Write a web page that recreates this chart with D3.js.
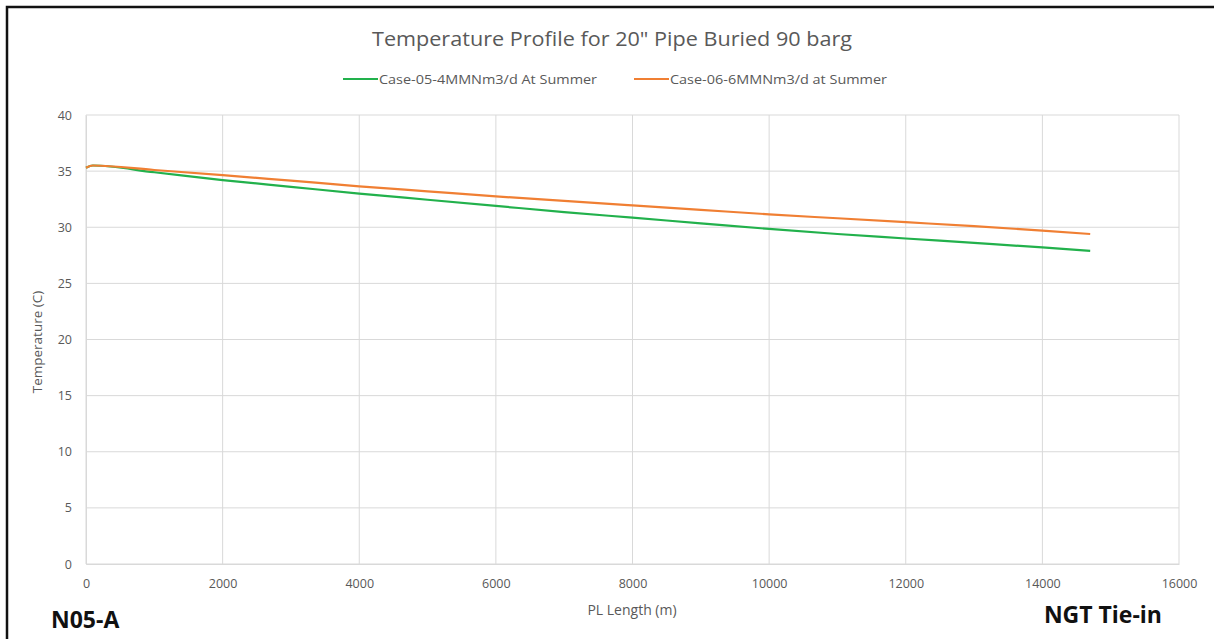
<!DOCTYPE html>
<html><head><meta charset="utf-8">
<script src="https://cdn.jsdelivr.net/npm/d3@7"></script>
<style>body{margin:0;background:#fff;}svg{display:block;font-family:"Open Sans",sans-serif;}</style>
</head><body><svg id="c" width="1214" height="639"></svg>
<script>
const chartTitle = 'Temperature  Profile for 20" Pipe Buried 90 barg';
const xTicks = [0,2000,4000,6000,8000,10000,12000,14000,16000];
const yTicks = [0,5,10,15,20,25,30,35,40];
const lengths = [0,100,1000,2000,3000,4000,5000,6000,7000,8000,9000,10000,11000,12000,13000,14000,14700];
const case05 = [35.3,35.5,34.9,34.2,33.6,33.0,32.45,31.9,31.35,30.85,30.35,29.85,29.4,29.0,28.6,28.2,27.9];
const case06 = [35.3,35.5,35.1,34.65,34.15,33.65,33.2,32.75,32.35,31.95,31.55,31.15,30.8,30.45,30.1,29.7,29.4];
const seriesNames = ["Case-05-4MMNm3/d At Summer","Case-06-6MMNm3/d at Summer"];
const seriesColors = ["#22b14c","#f07f33"];
const startLabel = "N05-A", endLabel = "NGT Tie-in";

const svg = d3.select("#c");
svg.append("path").attr("d","M7,639 V7 H1214").attr("fill","none").attr("stroke","#111").attr("stroke-width",2.5);

const x = d3.scaleLinear().domain([0,16000]).range([86,1179]);
const y = d3.scaleLinear().domain([0,40]).range([564,115]);
const g = svg.append("g");
g.selectAll(".hg").data(yTicks).join("line").attr("x1",86).attr("x2",1179)
 .attr("y1",d=>y(d)).attr("y2",d=>y(d)).attr("stroke","#d9d9d9").attr("stroke-width",1);
g.selectAll(".vg").data(xTicks).join("line").attr("y1",115).attr("y2",564)
 .attr("x1",d=>x(d)).attr("x2",d=>x(d)).attr("stroke","#d9d9d9").attr("stroke-width",1);

const xa = svg.append("g").attr("transform","translate(0,564)").call(d3.axisBottom(x).tickValues(xTicks).tickSize(0).tickPadding(15).tickFormat(d3.format("d")));
const ya = svg.append("g").attr("transform","translate(86,0)").call(d3.axisLeft(y).tickValues(yTicks).tickSize(0).tickPadding(14));
[xa,ya].forEach(a=>{a.select(".domain").attr("stroke","#d9d9d9");a.selectAll("text").attr("fill","#595959").attr("font-size",12.5).attr("font-family","Open Sans");});

const line = d3.line().x(d=>x(d[0])).y(d=>y(d[1])).curve(d3.curveMonotoneX);
[case05,case06].forEach((s,i)=>{
  svg.append("path").datum(lengths.map((L,j)=>[L,s[j]])).attr("d",line)
   .attr("fill","none").attr("stroke",seriesColors[i]).attr("stroke-width",2.2);
});

svg.append("text").attr("x",612).attr("y",46).attr("text-anchor","middle").attr("font-size",20).attr("fill","#595959")
 .attr("textLength",480).attr("lengthAdjust","spacingAndGlyphs").text(chartTitle);

const lx=[343,634];
seriesNames.forEach((n,i)=>{
  svg.append("line").attr("x1",lx[i]).attr("x2",lx[i]+35).attr("y1",79).attr("y2",79).attr("stroke",seriesColors[i]).attr("stroke-width",2.2);
  svg.append("text").attr("x",lx[i]+36).attr("y",83.5).attr("font-size",12.5).attr("fill","#595959")
   .attr("textLength",i?217:218).attr("lengthAdjust","spacingAndGlyphs").text(n);
});

svg.append("text").attr("transform","translate(42,342) rotate(-90)").attr("text-anchor","middle").attr("font-size",13.5).attr("fill","#595959").text("Temperature (C)");
svg.append("text").attr("x",632).attr("y",615).attr("text-anchor","middle").attr("font-size",14).attr("fill","#595959").text("PL Length (m)");

svg.append("text").attr("x",51).attr("y",628).attr("font-size",23).attr("font-weight","bold").attr("fill","#111").text(startLabel);
svg.append("text").attr("x",1162).attr("y",623).attr("text-anchor","end").attr("font-size",23).attr("font-weight","bold").attr("fill","#111").text(endLabel);
</script></body></html>
